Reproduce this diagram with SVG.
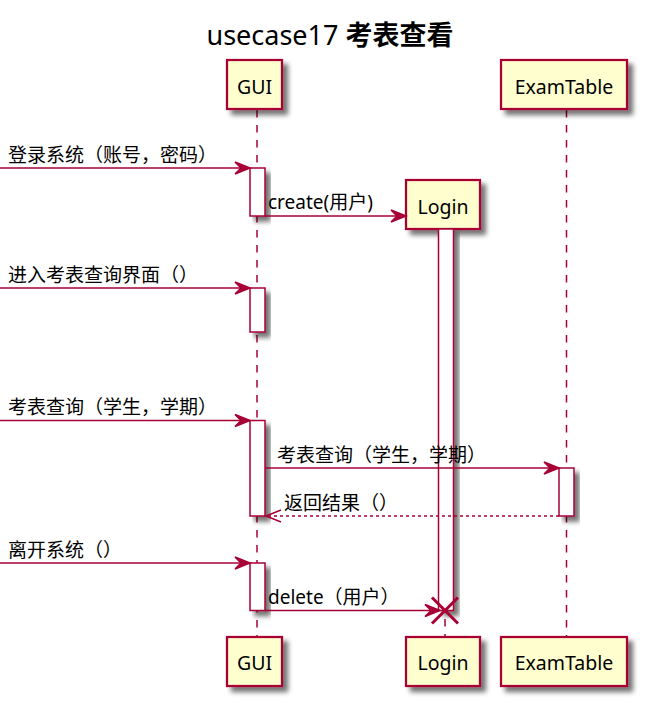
<svg xmlns="http://www.w3.org/2000/svg" width="646" height="703" viewBox="0 0 646 703">
<style>
.box{fill:#FEFECE;stroke:#A80036;stroke-width:2.25}
.act{fill:#FFFFFF;stroke:#A80036;stroke-width:1.5}
.life{stroke:#A80036;stroke-width:1.5;stroke-dasharray:7.5,7.5;fill:none}
.msg{stroke:#A80036;stroke-width:1.5;fill:none}
.ret{stroke:#A80036;stroke-width:1.5;fill:none;stroke-dasharray:3,3}
.head{fill:#A80036;stroke:#A80036;stroke-width:1.5}
.t{font-family:"Segoe UI","Noto Sans","Noto Sans CJK SC",sans-serif;font-size:19px;fill:#000}
.p{font-family:"Segoe UI","Noto Sans","Noto Sans CJK SC",sans-serif;font-size:19.5px;fill:#000;text-anchor:middle}
.title{font-family:"Segoe UI","Noto Sans","Noto Sans CJK SC",sans-serif;font-size:27px;fill:#000;text-anchor:middle}
</style>
<defs>
<filter id="sh" x="-20%" y="-20%" width="160%" height="160%">
<feGaussianBlur in="SourceAlpha" stdDeviation="2.5"/>
<feOffset dx="5" dy="5" result="b"/>
<feComponentTransfer><feFuncA type="linear" slope="0.55"/></feComponentTransfer>
<feMerge><feMergeNode/><feMergeNode in="SourceGraphic"/></feMerge>
</filter>
</defs>
<rect width="646" height="703" fill="#FFFFFF"/>
<text class="title" x="330" y="45">usecase17 <tspan font-weight="bold" font-family="'Noto Sans CJK SC',sans-serif">考表查看</tspan></text>

<g id="lifelines">
<line class="life" x1="257" y1="110" x2="257" y2="637"/>
<line class="life" x1="566.5" y1="110" x2="566.5" y2="637"/>
<line class="life" x1="445" y1="229" x2="445" y2="637"/>
</g>

<g id="GUI">
<rect class="box" x="227" y="60" width="55" height="49" filter="url(#sh)"/>
<text class="p" x="254.5" y="94">GUI</text>
<rect class="box" x="227" y="637" width="55" height="49" filter="url(#sh)"/>
<text class="p" x="254.5" y="670">GUI</text>
<rect class="act" x="250" y="168" width="15" height="48" filter="url(#sh)"/>
<rect class="act" x="250" y="288" width="15" height="44" filter="url(#sh)"/>
<rect class="act" x="250" y="420.5" width="15" height="95.5" filter="url(#sh)"/>
<rect class="act" x="250" y="563" width="15" height="47.5" filter="url(#sh)"/>
</g>

<g id="ExamTable">
<rect class="box" x="501" y="60" width="126" height="49" filter="url(#sh)"/>
<text class="p" x="564" y="94">ExamTable</text>
<rect class="box" x="501" y="637" width="126" height="49" filter="url(#sh)"/>
<text class="p" x="564" y="670">ExamTable</text>
<rect class="act" x="559" y="468" width="15" height="48" filter="url(#sh)"/>
</g>

<g id="Login">
<rect class="box" x="406" y="180" width="74" height="49" filter="url(#sh)"/>
<text class="p" x="443" y="214">Login</text>
<rect class="act" x="438.5" y="229" width="15" height="381.5" filter="url(#sh)"/>
<rect class="box" x="406" y="637" width="74" height="49" filter="url(#sh)"/>
<text class="p" x="443" y="670">Login</text>
</g>

<g id="connectors">
<line class="msg" x1="0" y1="168" x2="248" y2="168"/>
<polygon class="head" points="250,168 235,162 241,168 235,174"/>
<text class="t" x="8" y="162">登录系统（账号，密码）</text>

<line class="msg" x1="265" y1="216" x2="404" y2="216"/>
<polygon class="head" points="406,216 391,210 397,216 391,222"/>
<text class="t" x="268" y="209">create(用户)</text>

<line class="msg" x1="0" y1="288" x2="248" y2="288"/>
<polygon class="head" points="250,288 235,282 241,288 235,294"/>
<text class="t" x="8" y="282">进入考表查询界面（）</text>

<line class="msg" x1="0" y1="420.5" x2="248" y2="420.5"/>
<polygon class="head" points="250,420.5 235,414.5 241,420.5 235,426.5"/>
<text class="t" x="8" y="414">考表查询（学生，学期）</text>

<line class="msg" x1="265" y1="468" x2="557" y2="468"/>
<polygon class="head" points="559,468 544,462 550,468 544,474"/>
<text class="t" x="277" y="462">考表查询（学生，学期）</text>

<line class="ret" x1="559" y1="516" x2="267" y2="516"/>
<polyline class="msg" points="281,510 266,516 281,522"/>
<text class="t" x="284" y="510">返回结果（）</text>

<line class="msg" x1="0" y1="563" x2="248" y2="563"/>
<polygon class="head" points="250,563 235,557 241,563 235,569"/>
<text class="t" x="8" y="557">离开系统（）</text>

<line class="msg" x1="265" y1="610.5" x2="438" y2="610.5"/>
<polygon class="head" points="440,610.5 425,604.5 431,610.5 425,616.5"/>
<text class="t" x="268" y="604">delete（用户）</text>
<line stroke="#A80036" stroke-width="3" x1="432" y1="597.5" x2="458" y2="623.5"/>
<line stroke="#A80036" stroke-width="3" x1="432" y1="623.5" x2="458" y2="597.5"/>
</g>
</svg>
